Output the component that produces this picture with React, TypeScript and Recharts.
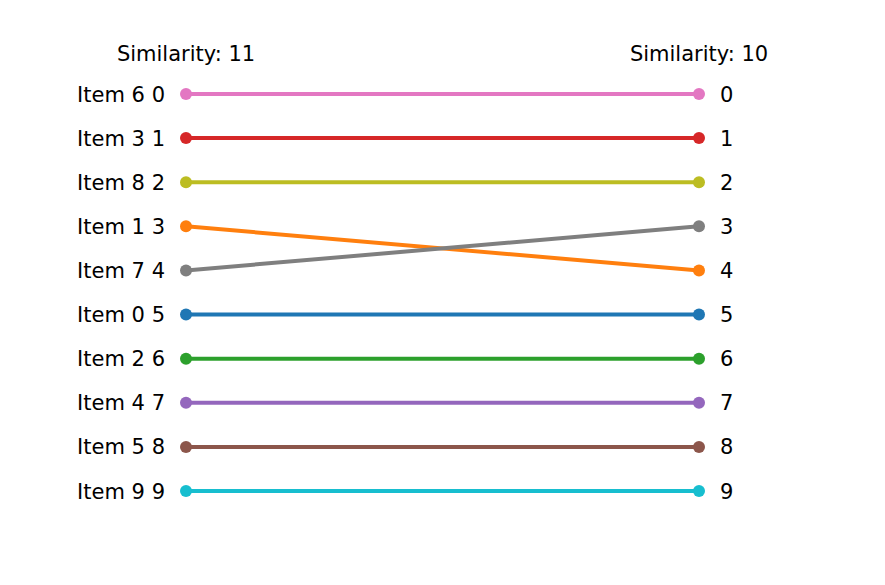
import { LineChart, Line, XAxis, YAxis } from 'recharts';

const items = ['Item 0', 'Item 1', 'Item 2', 'Item 3', 'Item 4', 'Item 5', 'Item 6', 'Item 7', 'Item 8', 'Item 9'];
const leftRank = [5, 3, 6, 1, 7, 8, 0, 4, 2, 9];
const rightRank = [5, 4, 6, 1, 7, 8, 0, 3, 2, 9];
const titles = ['Similarity: 11', 'Similarity: 10'];
const colors = ['#1f77b4', '#ff7f0e', '#2ca02c', '#d62728', '#9467bd', '#8c564b', '#e377c2', '#7f7f7f', '#bcbd22', '#17becf'];
const ranks = [0, 1, 2, 3, 4, 5, 6, 7, 8, 9];

const data = [0, 1].map((side) => {
  const row: any = { side };
  items.forEach((name, i) => {
    row[name] = side === 0 ? leftRank[i] : rightRank[i];
  });
  return row;
});

const font = 'DejaVu Sans, sans-serif';

const LeftTick = (props: any) => {
  const { x, y, payload } = props;
  const idx = leftRank.indexOf(payload.value);
  return (
    <text x={x} y={y} dy="0.36em" textAnchor="end" fontSize={21} fontFamily={font} fill="#000">
      {items[idx]} {payload.value}
    </text>
  );
};

const RightTick = (props: any) => {
  const { x, y, payload } = props;
  return (
    <text x={x} y={y} dy="0.36em" textAnchor="start" fontSize={21} fontFamily={font} fill="#000">
      {payload.value}
    </text>
  );
};

const TopTick = (props: any) => {
  const { x, payload } = props;
  return (
    <text x={x} y={61} textAnchor="middle" fontSize={21} fontFamily={font} fill="#000">
      {titles[payload.value]}
    </text>
  );
};

export default function App() {
  return (
    <div style={{ position: 'absolute', left: 0, top: 0, background: '#fff' }}>
      <LineChart width={885} height={585} data={data} margin={{ top: 0, right: 0, bottom: 94, left: 0 }}>
        <XAxis
          dataKey="side"
          type="number"
          domain={[0, 1]}
          ticks={[0, 1]}
          orientation="top"
          height={94}
          axisLine={false}
          tickLine={false}
          tick={<TopTick />}
        />
        <YAxis
          yAxisId="l"
          type="number"
          domain={[0, 9]}
          ticks={ranks}
          reversed
          width={186}
          axisLine={false}
          tickLine={false}
          tickSize={0}
          tickMargin={21}
          interval={0}
          tick={<LeftTick />}
        />
        <YAxis
          yAxisId="r"
          orientation="right"
          type="number"
          domain={[0, 9]}
          ticks={ranks}
          reversed
          width={186}
          axisLine={false}
          tickLine={false}
          tickSize={0}
          tickMargin={21}
          interval={0}
          tick={<RightTick />}
        />
        {/* invisible series so the right axis gets rendered */}
        <Line
          yAxisId="r"
          dataKey={items[0]}
          stroke="none"
          dot={false}
          activeDot={false}
          legendType="none"
          isAnimationActive={false}
        />
        {items.map((name, i) => (
          <Line
            key={name}
            yAxisId="l"
            dataKey={name}
            stroke={colors[i]}
            strokeWidth={4}
            dot={{ r: 6, fill: colors[i], stroke: 'none' }}
            isAnimationActive={false}
          />
        ))}
      </LineChart>
    </div>
  );
}
